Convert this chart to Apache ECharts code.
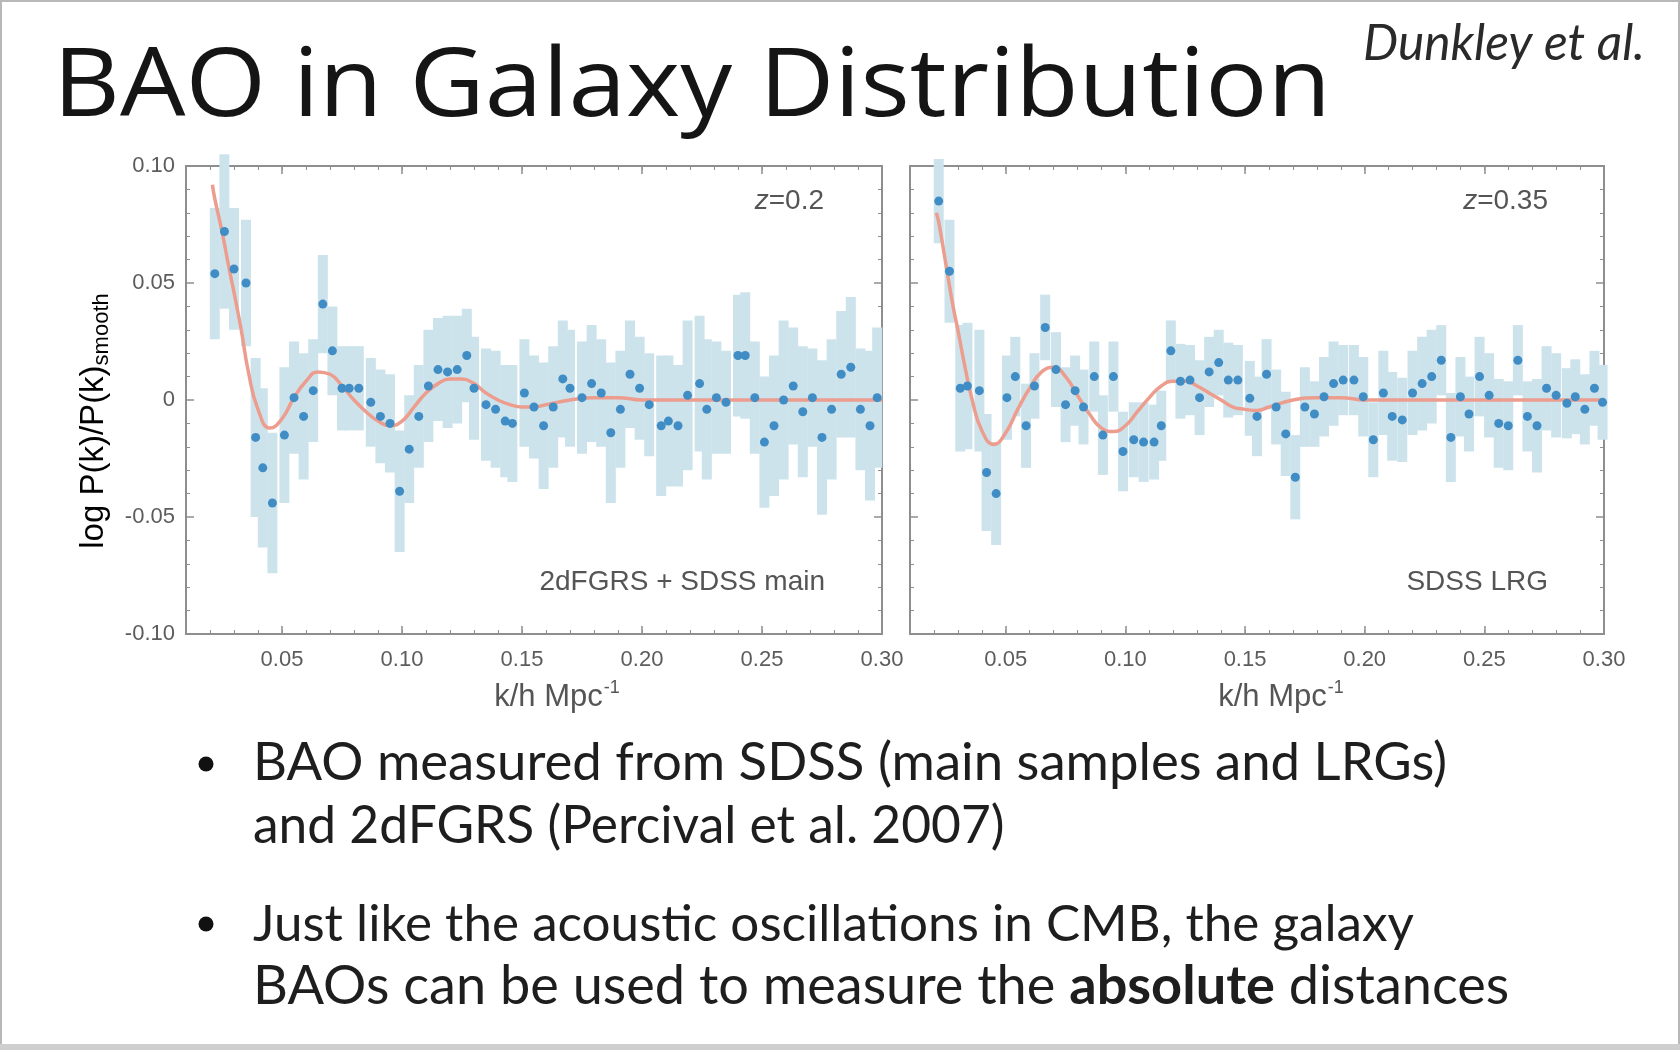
<!DOCTYPE html>
<html>
<head>
<meta charset="utf-8">
<title>BAO in Galaxy Distribution</title>
<script src="https://cdn.jsdelivr.net/npm/echarts@6/dist/echarts.min.js"></script>
<style>
html, body { margin: 0; padding: 0; background: #fff; }
#chart { width: 1680px; height: 1050px; }
</style>
</head>
<body>
<div id="chart"></div>
<script>
// z=0.2 : 2dFGRS + SDSS main
var kLeft = [0.022, 0.026, 0.030, 0.035, 0.039, 0.042, 0.046, 0.051, 0.055, 0.059,
    0.063, 0.067, 0.071, 0.075, 0.078, 0.082, 0.087, 0.091, 0.095, 0.099,
    0.103, 0.107, 0.111, 0.115, 0.119, 0.123, 0.127, 0.130, 0.135, 0.139,
    0.143, 0.146, 0.151, 0.155, 0.159, 0.163, 0.167, 0.170, 0.175, 0.179,
    0.183, 0.187, 0.191, 0.195, 0.199, 0.203, 0.208, 0.211, 0.215, 0.219,
    0.224, 0.227, 0.231, 0.235, 0.240, 0.243, 0.247, 0.251, 0.255, 0.259,
    0.263, 0.267, 0.271, 0.275, 0.279, 0.283, 0.287, 0.291, 0.295, 0.298];
var valLeft = [0.054, 0.072, 0.056, 0.050, -0.016, -0.029, -0.044, -0.015, 0.001, -0.007,
    0.004, 0.041, 0.021, 0.005, 0.005, 0.005, -0.001, -0.007, -0.010, -0.039,
    -0.021, -0.007, 0.006, 0.013, 0.012, 0.013, 0.019, 0.005, -0.002, -0.004,
    -0.009, -0.010, 0.003, -0.003, -0.011, -0.003, 0.009, 0.005, 0.001, 0.007,
    0.003, -0.014, -0.004, 0.011, 0.005, -0.002, -0.011, -0.009, -0.011, 0.002,
    0.007, -0.004, 0.001, -0.001, 0.019, 0.019, 0.001, -0.018, -0.011, 0.000,
    0.006, -0.005, 0.001, -0.016, -0.004, 0.011, 0.014, -0.004, -0.011, 0.001];
var errLeft = [0.028, 0.033, 0.026, 0.027, 0.034, 0.034, 0.030, 0.029, 0.024, 0.027,
    0.022, 0.021, 0.019, 0.018, 0.018, 0.018, 0.019, 0.020, 0.021, 0.026,
    0.023, 0.022, 0.024, 0.022, 0.024, 0.023, 0.020, 0.022, 0.024, 0.025,
    0.024, 0.025, 0.023, 0.022, 0.027, 0.026, 0.025, 0.025, 0.024, 0.025,
    0.023, 0.030, 0.025, 0.023, 0.022, 0.022, 0.030, 0.028, 0.026, 0.032,
    0.029, 0.030, 0.024, 0.022, 0.026, 0.027, 0.024, 0.028, 0.030, 0.034,
    0.025, 0.028, 0.021, 0.033, 0.030, 0.027, 0.030, 0.026, 0.032, 0.030];

// z=0.35 : SDSS LRG
var kRight = [0.022, 0.0265, 0.031, 0.034, 0.039, 0.042, 0.046, 0.0505, 0.054, 0.0585,
    0.062, 0.0665, 0.071, 0.075, 0.079, 0.0825, 0.087, 0.0906, 0.095, 0.099,
    0.1035, 0.1076, 0.112, 0.115, 0.119, 0.123, 0.127, 0.131, 0.135, 0.139,
    0.143, 0.147, 0.152, 0.155, 0.159, 0.163, 0.167, 0.171, 0.175, 0.179,
    0.183, 0.187, 0.191, 0.1955, 0.1994, 0.2036, 0.2078, 0.2115, 0.2157, 0.220,
    0.224, 0.228, 0.232, 0.236, 0.240, 0.2436, 0.248, 0.252, 0.256, 0.260,
    0.264, 0.268, 0.272, 0.276, 0.280, 0.2845, 0.288, 0.292, 0.296, 0.2994];
var valRight = [0.085, 0.055, 0.005, 0.006, 0.004, -0.031, -0.040, 0.001, 0.010, -0.011,
    0.006, 0.031, 0.013, -0.002, 0.004, -0.003, 0.010, -0.015, 0.010, -0.022,
    -0.017, -0.018, -0.018, -0.011, 0.021, 0.008, 0.0085, 0.001, 0.012, 0.016,
    0.0085, 0.0085, 0.0007, -0.007, 0.011, -0.003, -0.0145, -0.033, -0.003, -0.006,
    0.0014, 0.007, 0.0085, 0.0085, 0.0014, -0.017, 0.003, -0.007, -0.0085, 0.003,
    0.007, 0.010, 0.017, -0.016, 0.0014, -0.006, 0.010, 0.002, -0.010, -0.011,
    0.017, -0.007, -0.011, 0.005, 0.002, -0.0014, 0.0014, -0.004, 0.005, -0.001];
var errRight = [0.018, 0.022, 0.027, 0.027, 0.026, 0.025, 0.022, 0.018, 0.017, 0.018,
    0.014, 0.014, 0.016, 0.016, 0.015, 0.016, 0.015, 0.017, 0.015, 0.017,
    0.016, 0.017, 0.016, 0.015, 0.013, 0.016, 0.015, 0.016, 0.015, 0.014,
    0.016, 0.015, 0.016, 0.017, 0.015, 0.016, 0.018, 0.018, 0.017, 0.014,
    0.017, 0.018, 0.015, 0.015, 0.017, 0.016, 0.018, 0.019, 0.018, 0.018,
    0.020, 0.020, 0.015, 0.019, 0.017, 0.016, 0.017, 0.018, 0.019, 0.019,
    0.015, 0.015, 0.020, 0.018, 0.018, 0.015, 0.016, 0.015, 0.016, 0.016];

// smooth model curves
var modelK = [0.021, 0.022, 0.025, 0.028, 0.030, 0.033, 0.036, 0.040, 0.045, 0.050,
    0.055, 0.060, 0.065, 0.070, 0.075, 0.080, 0.085, 0.090, 0.095, 0.100,
    0.105, 0.110, 0.115, 0.120, 0.125, 0.130, 0.135, 0.140, 0.145, 0.150,
    0.155, 0.160, 0.170, 0.180, 0.190, 0.200, 0.220, 0.240, 0.260, 0.280, 0.300];
var modelLeft = [0.092, 0.086, 0.072, 0.056, 0.046, 0.030, 0.012, -0.004, -0.012, -0.008,
    0.001, 0.008, 0.012, 0.011, 0.006, 0.000, -0.005, -0.009, -0.011, -0.009,
    -0.003, 0.003, 0.007, 0.009, 0.009, 0.007, 0.003, 0.000, -0.002, -0.003,
    -0.003, -0.002, 0.000, 0.001, 0.001, 0.000, 0.000, 0.000, 0.000, 0.000, 0.000];
var modelRight = [0.080, 0.076, 0.058, 0.040, 0.030, 0.014, 0.000, -0.013, -0.019, -0.014,
    -0.004, 0.005, 0.012, 0.014, 0.010, 0.002, -0.006, -0.012, -0.0135, -0.011,
    -0.005, 0.001, 0.006, 0.008, 0.008, 0.006, 0.003, 0.000, -0.003, -0.004,
    -0.0045, -0.003, 0.000, 0.001, 0.001, 0.000, 0.000, 0.000, 0.000, 0.000, 0.000];

var xMajor = [0.05, 0.10, 0.15, 0.20, 0.25, 0.30];

var titleText = 'BAO in Galaxy Distribution';
var bulletLines = [
    'BAO measured from SDSS (main samples and LRGs)',
    'and 2dFGRS (Percival et al. 2007)',
    'Just like the acoustic oscillations in CMB, the galaxy'
];
var lastLine = ['BAOs can be used to measure the ', 'absolute', ' distances'];
// width each bullet line takes on the slide
var bulletWidths = [1194, 751, 1161, 1257];

var frameColor = '#8e8e8e';
var labelColor = '#5c5c5c';
var textGray = '#555555';
var barColor = '#cde3ec';
var dotColor = '#3f8dc4';
var lineColor = '#ec9d8e';
var plotFont = '"Liberation Sans", Arial, sans-serif';
var slideFont = 'Lato, "Open Sans", sans-serif';
var titleFont = '"Open Sans", Lato, sans-serif';

// pick a font size so that a text spans the wanted width
var measureCtx = document.createElement('canvas').getContext('2d');
function widthAt100(text, prefix, family) {
    measureCtx.font = prefix + ' 100px ' + family;
    return measureCtx.measureText(text).width;
}
function fitSize(text, prefix, family, target) {
    return Math.round(1000 * target / widthAt100(text, prefix, family)) / 10;
}
var titleSize = fitSize(titleText, 'normal', titleFont, 1278);
var creditSize = fitSize('Dunkley et al.', 'italic', slideFont, 282);
var bulletSizes = bulletLines.map(function (t, i) {
    return fitSize(t, 'normal', slideFont, bulletWidths[i]);
});
var lastW = widthAt100(lastLine[0], 'normal', slideFont) + widthAt100(lastLine[1], 'bold', slideFont)
    + widthAt100(lastLine[2], 'normal', slideFont);
var lastSize = Math.round(1000 * bulletWidths[3] / lastW) / 10;

var chart = echarts.init(document.getElementById('chart'));

function xAxesFor(g, showLabel) {
    var base = {gridIndex: g, type: 'value', min: 0.01, max: 0.30, splitLine: {show: false}};
    return [
        Object.assign({}, base, {
            position: 'bottom',
            axisLine: {onZero: false, lineStyle: {color: frameColor, width: 2}},
            axisTick: {inside: true, length: 8, customValues: xMajor, lineStyle: {color: frameColor, width: 1.5}},
            axisLabel: {show: showLabel, customValues: xMajor, margin: 15, color: labelColor,
                fontSize: 22, fontFamily: plotFont,
                formatter: function (v) { return v.toFixed(2); }}
        }),
        Object.assign({}, base, {
            position: 'top',
            axisLine: {onZero: false, lineStyle: {color: frameColor, width: 2}},
            axisTick: {inside: true, length: 8, customValues: xMajor, lineStyle: {color: frameColor, width: 1.5}},
            axisLabel: {show: false}
        }),
        // minor ticks every 0.01
        Object.assign({}, base, {
            position: 'bottom', interval: 0.01,
            axisLine: {show: false, onZero: false},
            axisTick: {inside: true, length: 4, lineStyle: {color: frameColor, width: 1}},
            axisLabel: {show: false}
        }),
        Object.assign({}, base, {
            position: 'top', interval: 0.01,
            axisLine: {show: false, onZero: false},
            axisTick: {inside: true, length: 4, lineStyle: {color: frameColor, width: 1}},
            axisLabel: {show: false}
        })
    ];
}

function yAxesFor(g, showLabel) {
    var base = {
        gridIndex: g, type: 'value', min: -0.10, max: 0.10, interval: 0.05,
        splitLine: {show: false},
        axisLine: {onZero: false, lineStyle: {color: frameColor, width: 2}},
        axisTick: {inside: true, length: 8, lineStyle: {color: frameColor, width: 1.5}},
        minorTick: {show: true, splitNumber: 5, length: 4, lineStyle: {color: frameColor, width: 1}}
    };
    return [
        Object.assign({}, base, {
            position: 'left',
            axisLabel: {show: showLabel, margin: 11, color: labelColor, fontSize: 22, fontFamily: plotFont,
                formatter: function (v) { return Math.abs(v) < 1e-9 ? '0' : v.toFixed(2); }}
        }),
        Object.assign({}, base, {position: 'right', axisLabel: {show: false}})
    ];
}

function renderErr(params, api) {
    var k = api.value(0), v = api.value(1), e = api.value(2);
    var top = api.coord([k, v + e]);
    var bot = api.coord([k, v - e]);
    var w = 10;
    return {
        type: 'rect',
        shape: {x: top[0] - w / 2, y: top[1], width: w, height: bot[1] - top[1]},
        style: {fill: barColor}
    };
}

function seriesFor(g, ks, vals, errs, model) {
    var xi = g * 4, yi = g * 2;
    return [
        {
            type: 'custom', xAxisIndex: xi, yAxisIndex: yi,
            renderItem: renderErr,
            encode: {x: 0, y: 1},
            data: ks.map(function (k, i) { return [k, vals[i], errs[i]]; }),
            silent: true, z: 1
        },
        {
            type: 'line', xAxisIndex: xi, yAxisIndex: yi,
            data: modelK.map(function (k, i) { return [k, model[i]]; }),
            smooth: 0.5, showSymbol: false,
            lineStyle: {color: lineColor, width: 3.5},
            z: 2
        },
        {
            type: 'scatter', xAxisIndex: xi, yAxisIndex: yi,
            data: ks.map(function (k, i) { return [k, vals[i]]; }),
            symbolSize: 9,
            itemStyle: {color: dotColor, opacity: 1},
            z: 3
        }
    ];
}

function plotText(x, y, txt, align, rich) {
    return {
        type: 'text', x: x, y: y, silent: true,
        style: {
            text: txt, rich: rich,
            font: '28px ' + plotFont, fill: textGray,
            align: align, textAlign: align,
            verticalAlign: 'middle', textVerticalAlign: 'middle'
        }
    };
}

var zRich = {
    i: {fontStyle: 'italic', fontSize: 28, fontFamily: plotFont, color: textGray},
    n: {fontSize: 28, fontFamily: plotFont, color: textGray}
};
var kRich = {
    n: {fontSize: 31, fontFamily: plotFont, color: textGray, lineHeight: 36},
    s: {fontSize: 18, fontFamily: plotFont, color: textGray, verticalAlign: 'top', lineHeight: 36, padding: [0, 0, 16, 1]}
};
var bulletRich = {
    n: {fontSize: lastSize, fontFamily: slideFont, color: '#1e1e1e'},
    b: {fontSize: lastSize, fontFamily: slideFont, fontWeight: 'bold', color: '#1e1e1e'}
};

function slideText(x, y, txt, size, extra) {
    return Object.assign({
        type: 'text', x: x, y: y, silent: true
    }, {
        style: Object.assign({
            text: txt, font: size + 'px ' + slideFont, fill: '#1e1e1e',
            align: 'left', textAlign: 'left',
            verticalAlign: 'middle', textVerticalAlign: 'middle'
        }, extra || {})
    });
}

var titleEl = slideText(53, 89, titleText, titleSize, {font: titleSize + 'px ' + titleFont, fill: '#151515'});
titleEl.scaleY = 0.92;

var option = {
    animation: false,
    backgroundColor: '#ffffff',
    grid: [
        {left: 186, top: 166, width: 696, height: 468, containLabel: false, outerBoundsMode: 'none'},
        {left: 910, top: 166, width: 694, height: 468, containLabel: false, outerBoundsMode: 'none'}
    ],
    xAxis: xAxesFor(0, true).concat(xAxesFor(1, true)),
    yAxis: yAxesFor(0, true).concat(yAxesFor(1, false)),
    series: seriesFor(0, kLeft, valLeft, errLeft, modelLeft)
        .concat(seriesFor(1, kRight, valRight, errRight, modelRight)),
    graphic: [
        // slide frame
        {type: 'rect', silent: true, shape: {x: 1, y: 1, width: 1678, height: 1044},
            style: {fill: null, stroke: '#b8b8b8', lineWidth: 2}},
        {type: 'rect', silent: true, shape: {x: 0, y: 1044, width: 1680, height: 6},
            style: {fill: '#cfcfcf'}},
        // title
        titleEl,
        slideText(1645, 44, 'Dunkley et al.', creditSize, {font: 'italic ' + creditSize + 'px ' + slideFont,
            fill: '#2a2a2a', align: 'right', textAlign: 'right'}),
        // annotations inside panels
        plotText(824, 201, '{i|z}{n|=0.2}', 'right', zRich),
        plotText(825, 582, '2dFGRS + SDSS main', 'right'),
        plotText(1548, 201, '{i|z}{n|=0.35}', 'right', zRich),
        plotText(1548, 582, 'SDSS LRG', 'right'),
        // axis titles
        plotText(557, 697, '{n|k/h Mpc}{s|-1}', 'center', kRich),
        plotText(1281, 697, '{n|k/h Mpc}{s|-1}', 'center', kRich),
        {
            type: 'text', x: 94, y: 421, rotation: Math.PI / 2, silent: true,
            style: {
                text: '{a|log P(k)/P(k)}{s|smooth}',
                rich: {
                    a: {fontSize: 33, fontFamily: plotFont, color: textGray, lineHeight: 38},
                    s: {fontSize: 22, fontFamily: plotFont, color: textGray, verticalAlign: 'bottom', lineHeight: 38, padding: [13, 0, 0, 0]}
                },
                align: 'center', textAlign: 'center',
                verticalAlign: 'middle', textVerticalAlign: 'middle'
            }
        },
        // bullets
        {type: 'circle', silent: true, shape: {cx: 206, cy: 764, r: 7.5}, style: {fill: '#111'}},
        {type: 'circle', silent: true, shape: {cx: 206, cy: 924, r: 7.5}, style: {fill: '#111'}},
        slideText(253, 763, bulletLines[0], bulletSizes[0]),
        slideText(253, 826, bulletLines[1], bulletSizes[1]),
        slideText(253, 924, bulletLines[2], bulletSizes[2]),
        slideText(253, 987, '{n|' + lastLine[0] + '}{b|' + lastLine[1] + '}{n|' + lastLine[2] + '}',
            lastSize, {rich: bulletRich})
    ]
};

chart.setOption(option);
</script>
</body>
</html>
